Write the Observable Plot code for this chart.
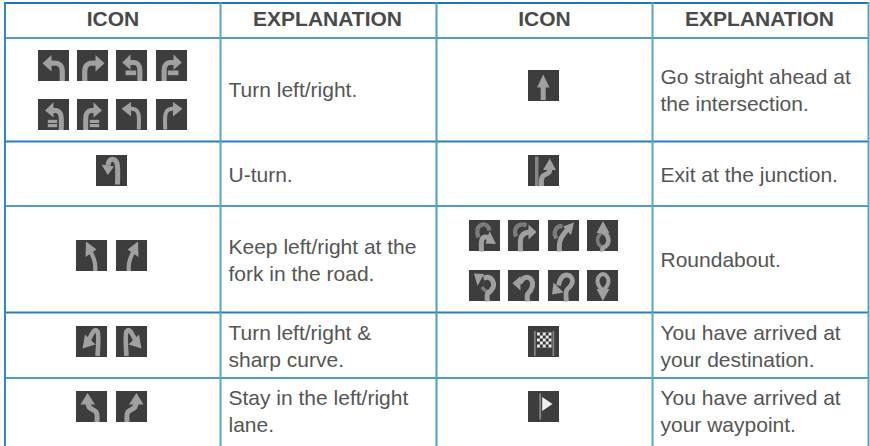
<!DOCTYPE html>
<html><head><meta charset="utf-8">
<script src="https://cdn.jsdelivr.net/npm/d3@7"></script>
<script src="https://cdn.jsdelivr.net/npm/@observablehq/plot@0.6"></script>
<style>html,body{margin:0;padding:0;background:#fff}svg{display:block}</style>
</head><body><div id="chart"></div>
<script>
// ---- table content ----
const headers = ["ICON", "EXPLANATION", "ICON", "EXPLANATION"];
const leftExplanations = [
  ["Turn left/right."],
  ["U-turn."],
  ["Keep left/right at the", "fork in the road."],
  ["Turn left/right &", "sharp curve."],
  ["Stay in the left/right", "lane."]
];
const rightExplanations = [
  ["Go straight ahead at", "the intersection."],
  ["Exit at the junction."],
  ["Roundabout."],
  ["You have arrived at", "your destination."],
  ["You have arrived at", "your waypoint."]
];
const leftIcons = [
  ["turnL", "turnR", "barL", "barR", "bar2L", "bar2R", "thinL", "thinR"],
  ["uturn"],
  ["keepL", "keepR"],
  ["sharpL", "sharpR"],
  ["stayL", "stayR"]
];
const rightIcons = [
  ["straight"],
  ["exit"],
  ["ra1", "ra2", "ra3", "ra4", "ra5", "ra6", "ra7", "ra8"],
  ["finish"],
  ["waypoint"]
];

// ---- layout (pixel grid of the table) ----
const verticalRules = [[4.5, "#2f88c2"], [220, "#5ba3cf"], [436, "#4f9ccc"], [652, "#5ba3cf"], [868, "#5ba3cf"]];
const horizontalRules = [[2.5, "#1f78b6"], [37.5, "#4f9ccc"], [141, "#2a80ba"], [205.5, "#4f9ccc"], [312, "#2a80ba"], [377.5, "#4f9ccc"]];
const headerCentres = [112.5, 327, 544, 759];
const headerBaseline = 25.5;
const textLeft = [228, 660];
const leftBaselines = [[96.7], [181.7], [253, 280], [339.7, 366], [404, 431]];
const rightBaselines = [[83.3, 110], [181.7], [266], [339.7, 366], [404, 431]];
const leftIconX = [[38, 77, 116, 156, 38, 77, 116, 156], [96], [76, 116], [76, 116], [76, 116]];
const leftIconY = [[50, 50, 50, 50, 99, 99, 99, 99], [155], [240, 240], [326, 326], [391, 391]];
const rightIconX = [[528], [528], [469, 508, 548, 587, 469, 508, 548, 587], [528], [528]];
const rightIconY = [[70], [155], [220, 220, 220, 220, 270, 270, 270, 270], [326], [391]];
const iconSize = 31;

// ---- icon glyphs, in a 31-unit box ----
const G = "#a0a0a0", D = "#7c7c7c";
const S = (w, pts, c = G) => ({w, pts, c});
const P = (pts, c = G) => ({pts, c});
const R = (x1, y1, x2, y2, c = G) => P([[x1, y1], [x2, y1], [x2, y2], [x1, y2]], c);
const glyphs = {
  turnL: [S(5.2, [[23.7, 30.5], [23.7, 20], [23, 16.5], [21, 14], [18, 12.8], [12, 12.7]]), P([[4, 12.7], [13, 4.5], [13, 21]])],
  barL: [S(5, [[23.3, 30.5], [23.3, 19], [22.6, 15.5], [20.5, 13], [17.5, 12], [13, 12]]), P([[5.7, 12], [14, 4], [14, 19.5]]), R(9, 20, 19.7, 24.7)],
  bar2L: [S(5, [[22.7, 30.5], [22.7, 18], [22, 14.5], [20, 12], [17, 11], [13, 11]]), P([[6.5, 11], [15, 2.7], [15, 18]]), R(9.3, 20.3, 18.7, 23.5), R(9.3, 24.5, 18.7, 27.7)],
  thinL: [S(4, [[22.3, 30], [22.3, 17], [21.6, 13.5], [19.8, 10.8], [17, 9.5], [13, 9.3]]), P([[5, 9.3], [14.5, 2.5], [14.5, 17]])],
  uturn: [S(5, [[21, 29], [21, 11], [20, 6.5], [17.5, 4], [14.5, 4], [12.5, 6], [11.5, 10]]), P([[11.3, 19.5], [5, 9], [17.5, 11]])],
  keepL: [S(4.2, [[18.7, 30.5], [18.5, 23], [16, 15], [13, 10]]), P([[9.5, 1], [9, 16.5], [20, 9]])],
  sharpL: [S(4.6, [[21, 29.5], [21, 5], [19, 3.5], [17, 5], [12.5, 13]]), P([[6, 22], [8.5, 8], [19, 18]])],
  stayL: [S(5, [[20.5, 30.5], [20.5, 24], [19.5, 20.5], [16, 18], [12.5, 15.5], [11.5, 11]]), P([[11, 1.5], [4, 13], [18.5, 13]])],
  straight: [S(5, [[14.7, 29.5], [14.7, 15]]), P([[14.7, 4], [8.5, 17], [21, 17]])],
  exit: [R(6.5, 1, 10, 30.5, "#858585"), S(5, [[13, 30.5], [13, 24], [14.5, 20.5], [18, 18.5], [21, 16], [21.3, 12]]), P([[21.3, 3], [14.5, 14.5], [27.5, 14.5]])],
  ra1: [S(4.3, [[9, 17], [7.8, 12], [8.5, 7.5], [11.5, 4.5], [15.5, 4], [18.7, 6.5], [20, 10]], D), S(5, [[12, 31], [12, 21], [13, 18], [15.5, 16.5], [20, 17]]), P([[26.5, 23.5], [20, 10.5], [16, 23]])],
  ra2: [S(4.3, [[7.5, 16], [6.5, 11], [7.8, 7], [11, 4.5], [15, 4], [18, 5]], D), S(5, [[12, 31], [12, 20], [13, 16], [16, 13], [21, 11.5]]), P([[28, 11.5], [20, 4], [20, 19]])],
  ra3: [S(4.3, [[8, 18], [6.3, 14], [7, 9.5], [10, 6.2], [14, 5.5]], D), S(5, [[11, 31], [11, 23], [12.5, 18], [16, 12.5], [20, 8]]), P([[25.5, 2], [14.5, 6], [22.5, 14.5]])],
  ra4: [S(3.5, [[14.5, 27], [11.5, 24], [10, 19.5], [11.5, 15], [15, 12]], D), S(4.5, [[15, 31], [15, 28], [19, 25], [21, 20], [19.5, 15], [15.5, 11]]), P([[15.5, 0.5], [9, 12.5], [22, 12.5]])],
  ra5: [S(3.5, [[12.5, 16.5], [15, 19.5], [18, 21]], D), S(5, [[18, 31], [18, 23.5], [21.5, 20], [24, 15.5], [23, 10], [19.5, 7], [14, 7.5]]), P([[4.5, 3], [14.5, 3.5], [8, 15.5]])],
  ra6: [S(5, [[19, 31], [19, 24], [22, 20], [24, 15], [23.3, 10], [20, 7], [16, 7.3], [13, 10], [11, 12.7]]), P([[4, 12.7], [12, 5.5], [12, 20]])],
  ra7: [S(4.8, [[18, 31], [18, 20], [22, 15.5], [24, 11], [22.5, 6.5], [18.5, 4.5], [14, 6], [11.5, 10], [10, 15]]), P([[3.5, 24], [5, 12], [15, 22]])],
  ra8: [S(4, [[15.5, 20], [11.5, 15.5], [10, 10.5], [11.5, 6], [15.5, 3.5], [19.5, 6], [21, 10.5], [19.5, 15.5], [15.5, 20]]), P([[15.3, 30.5], [9, 18.5], [22, 18.5]])],
  finish: [
    R(5.5, 4.5, 7.2, 29.5, "#858585"), R(24, 4.5, 25.7, 29.5, "#858585"), R(8.5, 6, 23, 21, "#ededed"),
    R(11.4, 6, 14.3, 9, "#333"), R(17.2, 6, 20.1, 9, "#333"),
    R(8.5, 9, 11.4, 12, "#333"), R(14.3, 9, 17.2, 12, "#333"), R(20.1, 9, 23, 12, "#333"),
    R(11.4, 12, 14.3, 15, "#333"), R(17.2, 12, 20.1, 15, "#333"),
    R(8.5, 15, 11.4, 18, "#333"), R(14.3, 15, 17.2, 18, "#333"), R(20.1, 15, 23, 18, "#333"),
    R(11.4, 18, 14.3, 21, "#333"), R(17.2, 18, 20.1, 21, "#333")
  ],
  waypoint: [R(10.8, 2, 12.6, 28, "#8a8a8a"), P([[13.7, 5.5], [24, 12.5], [13.7, 19.5]], "#efefef")]
};
const mirror = parts => parts.map(p => ({...p, pts: p.pts.map(([x, y]) => [iconSize - x, y])}));
glyphs.turnR = mirror(glyphs.turnL);
glyphs.barR = mirror(glyphs.barL);
glyphs.bar2R = mirror(glyphs.bar2L);
glyphs.thinR = mirror(glyphs.thinL);
glyphs.keepR = mirror(glyphs.keepL);
glyphs.sharpR = mirror(glyphs.sharpL);
glyphs.stayR = mirror(glyphs.stayL);

// ---- tables for the marks ----
const icons = [];
const collect = (kinds, xs, ys) => kinds.forEach((row, r) => row.forEach((kind, i) =>
  icons.push({kind, x: xs[r][i], y: ys[r][i]})));
collect(leftIcons, leftIconX, leftIconY);
collect(rightIcons, rightIconX, rightIconY);

const strokes = [], fills = [];
icons.forEach((ic, n) => glyphs[ic.kind].forEach((part, k) => {
  const target = part.w ? strokes : fills;
  part.pts.forEach(([px, py]) => target.push({
    x: ic.x + px, y: ic.y + py, z: `${n}-${k}`, c: part.c, w: part.w
  }));
}));

const textRows = [];
const collectText = (rows, baselines, x) => rows.forEach((row, r) => row.forEach((text, i) =>
  textRows.push({text, x, y: baselines[r][i]})));
collectText(leftExplanations, leftBaselines, textLeft[0]);
collectText(rightExplanations, rightBaselines, textLeft[1]);
const headerRows = headers.map((text, i) => ({text, x: headerCentres[i], y: headerBaseline}));

const FONT = "'Liberation Sans', Arial, sans-serif";
const bodySize = 21, headSize = 21;
const chart = Plot.plot({
  width: 870, height: 446,
  margin: 0,
  style: {background: "#fff", fontFamily: FONT},
  x: {type: "linear", domain: [0, 870], range: [0, 870], axis: null},
  y: {type: "linear", domain: [0, 446], range: [0, 446], axis: null},
  color: {type: "identity"},
  marks: [
    Plot.ruleY(horizontalRules, {y: d => d[0], x1: 4, x2: 869, stroke: d => d[1], strokeWidth: 2}),
    Plot.ruleX(verticalRules, {x: d => d[0], y1: 2, y2: 446, stroke: d => d[1], strokeWidth: 2}),
    Plot.rect(icons, {x1: "x", y1: "y", x2: d => d.x + iconSize, y2: d => d.y + iconSize, fill: "#3d3d3d"}),
    Plot.line(strokes, {x: "x", y: "y", z: "z", stroke: "c", strokeWidth: "w", curve: "catmull-rom", strokeLinecap: "butt", strokeLinejoin: "round", fill: "none"}),
    Plot.line(fills, {x: "x", y: "y", z: "z", fill: "c", stroke: "none", curve: "linear"}),
    Plot.text(headerRows, {x: "x", y: d => d.y - 0.32 * headSize, text: "text", fontSize: headSize, fontWeight: "bold", fill: "#4a4a4a", textAnchor: "middle", lineAnchor: "middle"}),
    Plot.text(textRows, {x: "x", y: d => d.y - 0.32 * bodySize, text: "text", fontSize: bodySize, fill: "#555", textAnchor: "start", lineAnchor: "middle"})
  ]
});
document.getElementById("chart").append(chart);
</script>
</body></html>
